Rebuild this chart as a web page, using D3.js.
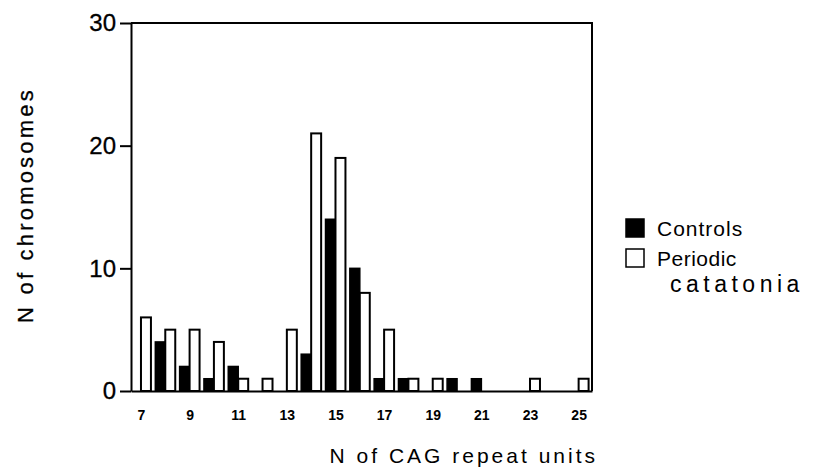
<!DOCTYPE html>
<html>
<head>
<meta charset="utf-8">
<script src="https://cdn.jsdelivr.net/npm/d3@7"></script>
<style>
  body { margin: 0; background: #fff; }
  svg { display: block; font-family: "Liberation Sans", Arial, sans-serif; }
</style>
</head>
<body>
<svg id="chart" width="833" height="468"></svg>
<script>
// CAG repeat length categories
const repeats = [7, 8, 9, 10, 11, 12, 13, 14, 15, 16, 17, 18, 19, 20, 21, 22, 23, 24, 25];
const controls = [0, 4, 2, 1, 2, 0, 0, 3, 14, 10, 1, 1, 0, 1, 1, 0, 0, 0, 0];
const catatonia = [6, 5, 5, 4, 1, 1, 5, 21, 19, 8, 5, 1, 1, 0, 0, 0, 1, 0, 1];
const xTicks = [7, 9, 11, 13, 15, 17, 19, 21, 23, 25];
const yTicks = [0, 10, 20, 30];

const margin = { top: 23, left: 131, right: 241, bottom: 77 };
const width = 833 - margin.left - margin.right;
const height = 468 - margin.top - margin.bottom;
const barW = 0.41; // bar width in category units

const svg = d3.select('#chart');
const plot = svg.append('g').attr('transform', `translate(${margin.left},${margin.top})`);

const x = d3.scaleLinear().domain([6.59, 25.55]).range([0, width]);
const y = d3.scaleLinear().domain([0, 30]).range([height, 0]);

const data = repeats.map((r, i) => ({ r, c: controls[i], p: catatonia[i] }));

// controls, black, left of the category
plot.append('g').selectAll('rect')
    .data(data.filter(d => d.c > 0))
    .join('rect')
    .attr('x', d => x(d.r - barW))
    .attr('width', d => x(d.r) - x(d.r - barW))
    .attr('y', d => y(d.c))
    .attr('height', d => y(0) - y(d.c))
    .attr('fill', '#000')
    .attr('stroke', '#000')
    .attr('stroke-width', 1.5);

// periodic catatonia, white, right of the category
plot.append('g').selectAll('rect')
    .data(data.filter(d => d.p > 0))
    .join('rect')
    .attr('x', d => x(d.r))
    .attr('width', d => x(d.r + barW) - x(d.r))
    .attr('y', d => y(d.p))
    .attr('height', d => y(0) - y(d.p))
    .attr('fill', '#fff')
    .attr('stroke', '#000')
    .attr('stroke-width', 2);

// frame top + right
plot.append('path')
    .attr('d', `M0,0H${width}V${height}`)
    .attr('fill', 'none')
    .attr('stroke', '#000')
    .attr('stroke-width', 2);

const yAxis = plot.append('g')
    .call(d3.axisLeft(y).tickValues(yTicks).tickSize(11).tickSizeOuter(0).tickPadding(4));
yAxis.select('.domain').attr('stroke-width', 2);
yAxis.selectAll('.tick line').attr('stroke-width', 2);
yAxis.selectAll('text').attr('font-size', 24).attr('fill', '#000')
    .attr('stroke', '#000').attr('stroke-width', 0.3)
    .attr('font-family', '"Liberation Sans", Arial, sans-serif');

const xAxis = plot.append('g')
    .attr('transform', `translate(0,${height})`)
    .call(d3.axisBottom(x).tickValues(xTicks).tickSize(0).tickSizeOuter(0).tickPadding(19));
xAxis.select('.domain').attr('stroke-width', 2);
xAxis.selectAll('text').attr('font-size', 14).attr('font-weight', 'bold').attr('fill', '#000')
    .attr('font-family', '"Liberation Sans", Arial, sans-serif');

// axis titles
svg.append('text')
    .attr('x', 598).attr('y', 463)
    .attr('text-anchor', 'end')
    .attr('font-size', 21)
    .attr('letter-spacing', 3)
    .text('N of CAG repeat units');

svg.append('text')
    .attr('transform', 'translate(33,205) rotate(-90)')
    .attr('text-anchor', 'middle')
    .attr('font-size', 22)
    .attr('letter-spacing', 3.2)
    .attr('stroke', '#000').attr('stroke-width', 0.3)
    .text('N of chromosomes');

// legend
const legend = svg.append('g').attr('transform', 'translate(626,219)');
legend.append('rect').attr('x', 0).attr('y', 0).attr('width', 18).attr('height', 18)
    .attr('fill', '#000').attr('stroke', '#000').attr('stroke-width', 1.5);
legend.append('rect').attr('x', 0).attr('y', 30).attr('width', 18).attr('height', 18)
    .attr('fill', '#fff').attr('stroke', '#000').attr('stroke-width', 1.5);
legend.append('text').attr('x', 31).attr('y', 17).attr('font-size', 21).attr('letter-spacing', 1).text('Controls');
legend.append('text').attr('x', 31).attr('y', 47).attr('font-size', 21).attr('letter-spacing', 0.5).text('Periodic');
legend.append('text').attr('x', 44).attr('y', 73).attr('font-size', 23)
    .attr('letter-spacing', 4.5)
    .text('catatonia');
</script>
</body>
</html>
